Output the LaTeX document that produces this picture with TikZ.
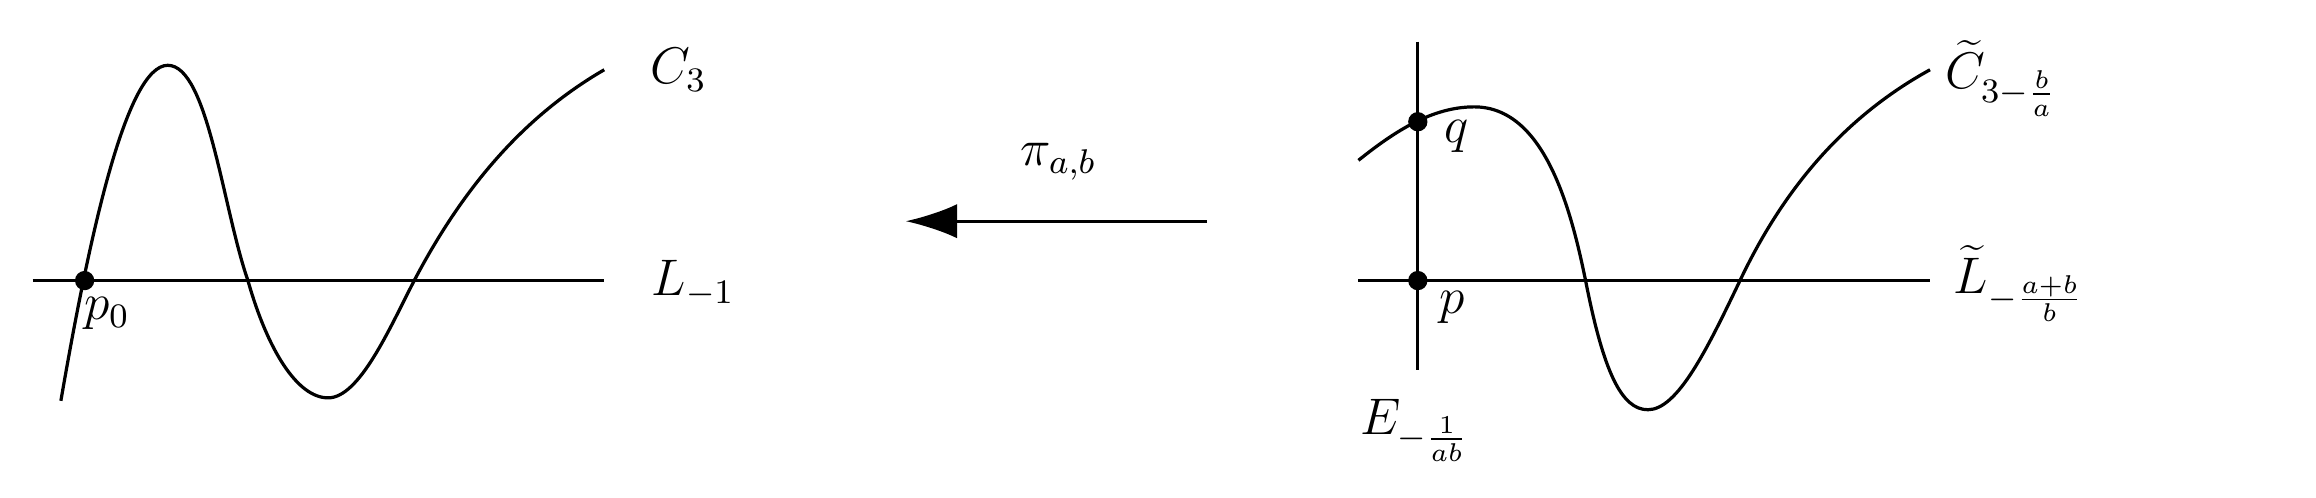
\documentclass[tikz,border=0pt]{standalone}
\usetikzlibrary{arrows.meta}
\begin{document}
\begin{tikzpicture}[x=0.346pt,y=-0.346pt,line width=0.75pt,
  dot/.style={circle,fill=black,inner sep=0pt,minimum size=4.5pt},
  lbl/.style={inner sep=0pt,font=\large}]
\useasboundingbox (0,0) rectangle (1560,335);
% left
\draw (22,189) -- (407,189);
\draw (41,270) .. controls (60,160) and (85,44) .. (113,44)
  .. controls (140,44) and (150,140) .. (167,189)
  .. controls (180,235) and (200,268) .. (221,268)
  .. controls (242,268) and (262,222) .. (279,189)
  .. controls (310,130) and (350,80) .. (407,47);
\node[dot] (p0) at (57,189) {};
\node[lbl] at (72,211) {$p_0$};
\node[lbl] at (457,47) {$C_3$};
\node[lbl] at (467,191) {$L_{-1}$};
% arrow
\coordinate (as) at (813,149);
\coordinate (ae) at (610,149);
\draw[-{Latex[length=12pt,width=8pt]}] (as) -- (ae);
\node[lbl] at (713,109) {$\pi_{a,b}$};
% right
\draw (915,189) -- (1300,189);
\draw (955,28) -- (955,249);
\draw (915,108) .. controls (940,88) and (965,72) .. (993,72)
  .. controls (1040,72) and (1058,140) .. (1068,189)
  .. controls (1080,250) and (1092,276) .. (1110,276)
  .. controls (1130,276) and (1150,235) .. (1172,189)
  .. controls (1200,130) and (1240,80) .. (1300,47);
\node[dot] (q) at (955,82) {};
\node[dot] (p) at (955,189) {};
\node[lbl] at (981,92) {$q$};
\node[lbl] at (978,207) {$p$};
\node[lbl] at (1348,53) {$\widetilde{C}_{3-\frac{b}{a}}$};
\node[lbl] at (1360,191) {$\widetilde{L}_{-\frac{a+b}{b}}$};
\node[lbl] at (953,290) {$E_{-\frac{1}{ab}}$};
\end{tikzpicture}
\end{document}
